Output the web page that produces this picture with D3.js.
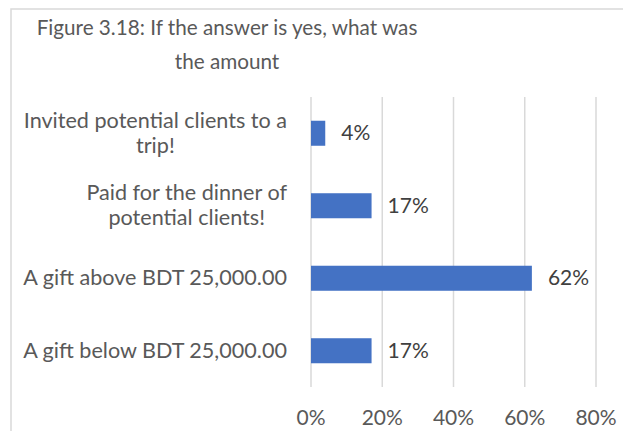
<!DOCTYPE html>
<html>
<head>
<meta charset="utf-8">
<script src="https://cdn.jsdelivr.net/npm/d3@7"></script>
<style>
  body { margin: 0; background: #fff; }
  text { font-family: Lato, "Open Sans", sans-serif; }
</style>
</head>
<body>
<svg id="chart" width="623" height="431"></svg>
<script>
// chart data
var titleLines = ["Figure 3.18: If the answer is yes, what was", "the amount"];
var categories = [
  ["Invited potential clients to a", "trip!"],
  ["Paid for the dinner of", "potential clients!"],
  ["A gift above BDT 25,000.00"],
  ["A gift below BDT 25,000.00"]
];
var values = [0.04, 0.17, 0.62, 0.17];
var ticks = [0, 0.2, 0.4, 0.6, 0.8];

var svg = d3.select("#chart");

// outer frame, only top and left edges show inside the window
svg.append("rect")
  .attr("x", 11).attr("y", 9)
  .attr("width", 700).attr("height", 500)
  .attr("fill", "none")
  .attr("stroke", "#d9d9d9")
  .attr("stroke-width", 1.5);

var x = d3.scaleLinear().domain([0, 0.8]).range([311, 596]);
var y = d3.scaleBand()
  .domain(d3.range(categories.length))
  .range([97, 387])
  .paddingInner(0.655)
  .paddingOuter(0.3275);

// title
svg.append("g").selectAll("text")
  .data(titleLines)
  .join("text")
    .attr("x", 227)
    .attr("y", function(d, i) { return 35 + i * 34; })
    .attr("text-anchor", "middle")
    .style("font-size", "20.7px")
    .style("fill", "#595959")
    .text(function(d) { return d; });

// gridlines
svg.append("g").selectAll("line")
  .data(ticks)
  .join("line")
    .attr("x1", function(d) { return x(d); })
    .attr("x2", function(d) { return x(d); })
    .attr("y1", 97)
    .attr("y2", 387)
    .style("stroke", "#d9d9d9")
    .style("stroke-width", "1.5px");

// x tick labels
svg.append("g").selectAll("text")
  .data(ticks)
  .join("text")
    .attr("x", function(d) { return x(d); })
    .attr("y", 425)
    .attr("text-anchor", "middle")
    .style("font-size", "21px")
    .style("fill", "#595959")
    .text(d3.format(".0%"));

// bars
svg.append("g").selectAll("rect")
  .data(values)
  .join("rect")
    .attr("x", x(0))
    .attr("y", function(d, i) { return y(i); })
    .attr("width", function(d) { return x(d) - x(0); })
    .attr("height", y.bandwidth())
    .style("fill", "#4472c4");

// value labels
svg.append("g").selectAll("text")
  .data(values)
  .join("text")
    .attr("x", function(d) { return x(d) + 16; })
    .attr("y", function(d, i) { return y(i) + y.bandwidth() / 2 + 7; })
    .style("font-size", "21px")
    .style("fill", "#404040")
    .text(d3.format(".0%"));

// category labels: lines centred, block right-aligned
var catG = svg.append("g");
categories.forEach(function(lines, i) {
  var cy = y(i) + y.bandwidth() / 2 + 7 - (lines.length - 1) * 12.5;
  var g = catG.append("g");
  var t = g.selectAll("text")
    .data(lines)
    .join("text")
      .attr("y", function(d, j) { return cy + j * 25; })
      .attr("text-anchor", "middle")
      .style("font-size", "21.6px")
      .style("fill", "#595959")
      .text(function(d) { return d; });
  var maxW = d3.max(t.nodes(), function(n) { return n.getComputedTextLength(); });
  t.attr("x", 287 - maxW / 2);
});
</script>
</body>
</html>
